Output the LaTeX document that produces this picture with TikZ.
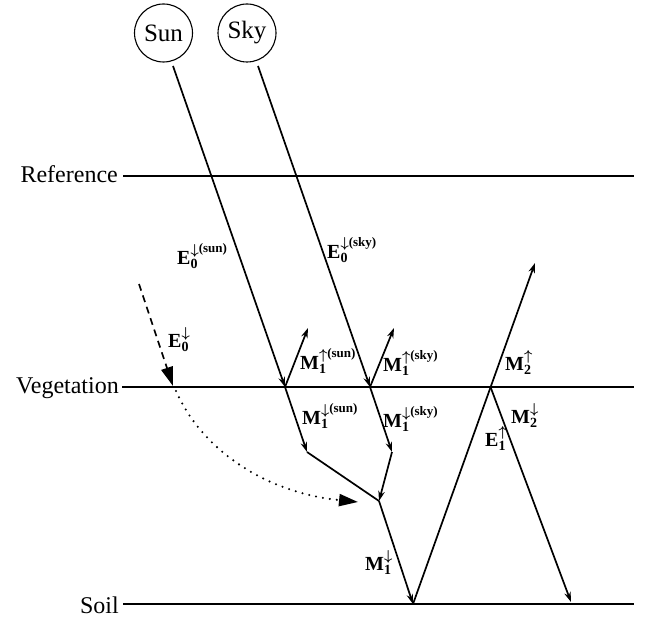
\documentclass[tikz,border=0pt]{standalone}
\usepackage{fontspec}
\setmainfont{Liberation Serif}
\usetikzlibrary{arrows.meta}
\newcommand{\sarrow}[1]{{\fontsize{15}{15}\selectfont\boldmath$#1$}}
\newcommand{\lb}[4]{\textbf{#1}\rlap{\raisebox{-4.5pt}{\fontsize{14}{14}\selectfont\bfseries #2}}\raisebox{10pt}{\sarrow{#3}}\raisebox{11.5pt}{\fontsize{13}{14}\selectfont\bfseries #4}}
\tikzset{
  level/.style={line width=1.8pt},
  levellabel/.style={font=\fontsize{24}{24}\selectfont, anchor=base east, inner sep=0pt},
  src/.style={draw, circle, line width=1.1pt, minimum size=58pt, inner sep=0pt, font=\fontsize{25}{25}\selectfont},
  ray/.style={line width=1.7pt, -{Stealth[length=10pt,width=6.5pt]}},
  plain/.style={line width=1.7pt},
  flux/.style={font=\fontsize{20}{20}\selectfont, anchor=base west, inner sep=0pt},
  bigtip/.style={-{Triangle[length=19pt,width=12pt]}},
}
\begin{document}
\begin{tikzpicture}[x=1pt,y=-1pt]
\useasboundingbox (0,0) rectangle (647,620);
% sources
\node[src] (sun) at (163.5,33) {Sun};
\node[src] (sky) at (247,33) {Sky};
% levels
\coordinate (refL) at (123,176); \coordinate (refR) at (634,176);
\coordinate (vegL) at (122,387); \coordinate (vegR) at (634,387);
\coordinate (soilL) at (123,604); \coordinate (soilR) at (634,604);
\draw[level] (refL) -- (refR);
\draw[level] (vegL) -- (vegR);
\draw[level] (soilL) -- (soilR);
\node[levellabel] (tref) at (118,183) {Reference};
\node[levellabel] (tveg) at (119,393) {Vegetation};
\node[levellabel] (tsoil) at (119,613) {Soil};
% key points
\coordinate (sunout) at (173,66);
\coordinate (skyout) at (258,66);
\coordinate (c1) at (285,387);
\coordinate (c2) at (370,387);
\coordinate (c3) at (490.5,387);
\coordinate (u1) at (308,328);
\coordinate (u2) at (394,328);
\coordinate (k1) at (307,452);
\coordinate (k2) at (392,452);
\coordinate (m) at (379,501);
\coordinate (s) at (413,604);
\coordinate (top) at (535,263);
\coordinate (d2) at (571,602);
\coordinate (dstart) at (139,284);
\coordinate (dend) at (173,386);
\coordinate (dot0) at (176,391);
\coordinate (dot1) at (358,502);
% rays
\draw[ray] (sunout) -- (c1);
\draw[ray] (skyout) -- (c2);
\draw[ray] (c1) -- (u1);
\draw[ray] (c2) -- (u2);
\draw[ray] (c1) -- (k1);
\draw[ray] (c2) -- (k2);
\draw[plain] (k1) -- (m);
\draw[ray] (k2) -- (m);
\draw[ray] (m) -- (s);
\draw[ray] (s) -- (top);
\draw[ray] (c3) -- (d2);
% diffuse
\draw[line width=1.6pt, dash pattern=on 7pt off 5pt, bigtip] (dstart) -- (dend);
\draw[line width=2.3pt, dash pattern=on 0pt off 7pt, line cap=round, bigtip] (dot0) .. controls (203,452) and (268,493) .. (dot1);
% labels
\node[flux] (le0sun) at (177,264) {\lb{E}{0}{\downarrow}{(sun)}};
\node[flux] (le0sky) at (327,258) {\lb{E}{0}{\downarrow}{(sky)}};
\node[flux] (le0) at (168,347) {\lb{E}{0}{\downarrow}{}};
\node[flux] (lm1usun) at (300,369) {\lb{M}{1}{\uparrow}{(sun)}};
\node[flux] (lm1usky) at (383,371) {\lb{M}{1}{\uparrow}{(sky)}};
\node[flux] (lm1dsun) at (302,424) {\lb{M}{1}{\downarrow}{(sun)}};
\node[flux] (lm1dsky) at (383,427) {\lb{M}{1}{\downarrow}{(sky)}};
\node[flux] (lm2u) at (505,370) {\lb{M}{2}{\uparrow}{}};
\node[flux] (lm2d) at (511,423) {\lb{M}{2}{\downarrow}{}};
\node[flux] (le1) at (485,446) {\lb{E}{1}{\uparrow}{}};
\node[flux] (lm1) at (365,570) {\lb{M}{1}{\downarrow}{}};
\end{tikzpicture}
\end{document}
